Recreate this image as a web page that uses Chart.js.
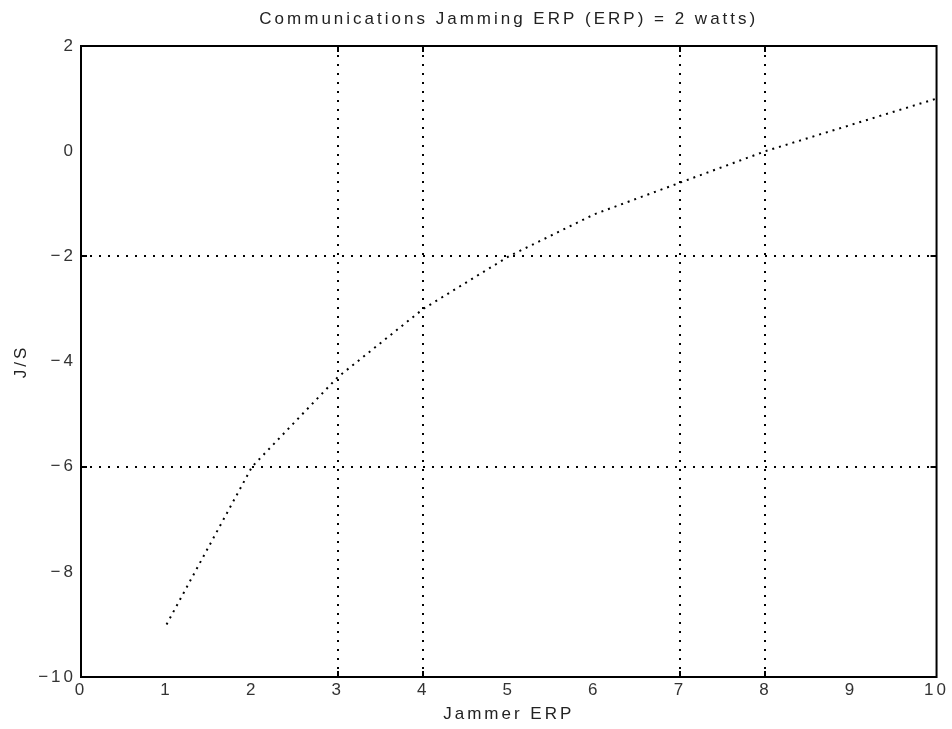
<!DOCTYPE html>
<html>
<head>
<meta charset="utf-8">
<script src="https://cdn.jsdelivr.net/npm/chart.js@4/dist/chart.umd.min.js"></script>
<style>
  html, body { margin: 0; padding: 0; background: #fff; }
  #wrap { width: 952px; height: 729px; }
</style>
</head>
<body>
<div id="wrap"><canvas id="c" width="952" height="729"></canvas></div>
<script>
// Jammer effective radiated power (watts) and resulting J/S (dB)
const erp = [1, 2, 3, 4, 5, 6, 7, 8, 9, 10];
const js  = [-9.0, -6.0, -4.3, -3.0, -2.0, -1.2, -0.6, 0.0, 0.5, 1.0];

// Axis ranges and the reference lines drawn across the plot
const xTicks = [0, 1, 2, 3, 4, 5, 6, 7, 8, 9, 10];
const yTicks = [-10, -8, -6, -4, -2, 0, 2];
const xRefLines = [3, 4, 7, 8];
const yRefLines = [-2, -6];

const chartTitle = 'Communications Jamming ERP (ERP) = 2 watts)';
const xLabel = 'Jammer ERP';
const yLabel = 'J/S';

const FONT = { family: '"Liberation Sans", Arial, sans-serif', size: 17 };
const SPACING = '3px';

// Wide letter spacing for all chart text
const spacingPlugin = {
  id: 'spacing',
  beforeUpdate(chart) { chart.ctx.letterSpacing = SPACING; },
  beforeDraw(chart) { chart.ctx.letterSpacing = SPACING; }
};

// Box around the plot plus short inward ticks at the reference lines
const framePlugin = {
  id: 'frame',
  afterDatasetsDraw(chart) {
    const { ctx, chartArea: a, scales: { x, y } } = chart;
    ctx.save();
    ctx.strokeStyle = '#000';
    ctx.lineWidth = 2;
    ctx.setLineDash([]);
    const len = 6;
    ctx.beginPath();
    xRefLines.forEach(v => {
      const px = Math.round(x.getPixelForValue(v));
      ctx.moveTo(px, a.bottom); ctx.lineTo(px, a.bottom - len);
      ctx.moveTo(px, a.top); ctx.lineTo(px, a.top + len);
    });
    yRefLines.forEach(v => {
      const py = Math.round(y.getPixelForValue(v));
      ctx.moveTo(a.left, py); ctx.lineTo(a.left + len, py);
      ctx.moveTo(a.right, py); ctx.lineTo(a.right - len, py);
    });
    ctx.stroke();
    ctx.strokeRect(a.left, a.top, a.right - a.left, a.bottom - a.top);
    ctx.restore();
  }
};

const refColor = (list) => (c) => (c.tick && list.includes(c.tick.value)) ? '#000' : 'rgba(0,0,0,0)';

new Chart(document.getElementById('c'), {
  type: 'line',
  data: {
    datasets: [{
      data: erp.map((v, i) => ({ x: v, y: js[i] })),
      borderColor: '#000',
      borderWidth: 2,
      borderDash: [2, 5],
      pointRadius: 0,
      tension: 0,
      fill: false
    }]
  },
  options: {
    responsive: false,
    animation: false,
    devicePixelRatio: 1,
    layout: { padding: { left: 0, right: 13, top: 0, bottom: 0 } },
    plugins: {
      legend: { display: false },
      tooltip: { enabled: false },
      title: {
        display: true,
        text: chartTitle,
        fullSize: false,
        color: '#222',
        font: { ...FONT, weight: 'normal' },
        padding: { top: 9, bottom: 16.6 }
      }
    },
    scales: {
      x: {
        type: 'linear',
        min: 0, max: 10,
        afterBuildTicks(s) { s.ticks = xTicks.map(v => ({ value: v })); },
        afterFit(s) { s.height = 52; },
        border: { display: false, dash: [2, 7] },
        grid: { color: refColor(xRefLines), lineWidth: 2, drawTicks: false },
        ticks: { color: '#333', font: FONT, padding: 3, maxRotation: 0, autoSkip: false },
        title: { display: true, text: xLabel, color: '#222', font: FONT, padding: { top: 0, bottom: 4 } }
      },
      y: {
        type: 'linear',
        min: -10, max: 2,
        afterBuildTicks(s) { s.ticks = yTicks.map(v => ({ value: v })); },
        afterFit(s) { s.width = 81; },
        border: { display: false, dash: [2, 7] },
        grid: { color: refColor(yRefLines), lineWidth: 2, drawTicks: false },
        ticks: {
          color: '#333', font: FONT, padding: 5, autoSkip: false,
          callback: (v) => (v < 0 ? '\u2212' + Math.abs(v) : String(v))
        },
        title: { display: true, text: yLabel, color: '#222', font: FONT, padding: { top: 11, bottom: 0 } }
      }
    }
  },
  plugins: [spacingPlugin, framePlugin]
});
</script>
</body>
</html>
